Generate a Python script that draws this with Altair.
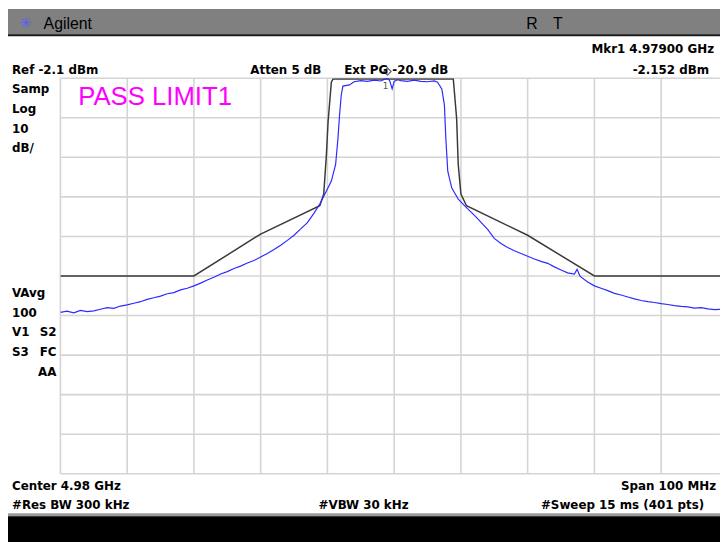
import altair as alt
import pandas as pd

# ---------------- data read from the screen ----------------
# blue measured trace (GHz, dBm)
trace_freq = [
    4.9300, 4.9310, 4.9320, 4.9330, 4.9340, 4.9350, 4.9360, 4.9370, 4.9380, 4.9390,
    4.9400, 4.9410, 4.9420, 4.9430, 4.9440, 4.9450, 4.9460, 4.9470, 4.9480, 4.9490,
    4.9500, 4.9510, 4.9520, 4.9530, 4.9540, 4.9550, 4.9560, 4.9570, 4.9580, 4.9590,
    4.9600, 4.9610, 4.9620, 4.9630, 4.9640, 4.9650, 4.9660, 4.9670, 4.9680, 4.96886,
    4.96985, 4.97059, 4.97123, 4.97158, 4.97182, 4.97207, 4.97232, 4.9733, 4.9740, 4.9750,
    4.9760, 4.9770, 4.9780, 4.9785, 4.9790, 4.9793, 4.9797, 4.9800, 4.9805, 4.9810,
    4.9820, 4.9830, 4.9840, 4.9850, 4.9860, 4.9865, 4.98714, 4.98753, 4.98774, 4.98803,
    4.98862, 4.98960, 4.99084, 4.99232, 4.9940, 4.9950, 4.9960, 4.9970, 4.9980, 4.9990,
    5.0000, 5.0010, 5.0020, 5.0030, 5.0040, 5.0050, 5.0060, 5.0070, 5.0074, 5.0078,
    5.0080, 5.0090, 5.0100, 5.0110, 5.0120, 5.0130, 5.0140, 5.0150, 5.0160, 5.0170,
    5.0180, 5.0190, 5.0200, 5.0210, 5.0220, 5.0230, 5.0240, 5.0250, 5.0260, 5.0270,
    5.0280, 5.0290, 5.0300,
]
trace_level = [
    -61.3, -61.0, -61.4, -60.8, -61.1, -60.9, -60.5, -60.1, -60.3, -59.7,
    -59.4, -59.0, -58.6, -58.0, -57.6, -57.2, -56.6, -56.3, -55.6, -55.2,
    -54.6, -53.9, -53.1, -52.4, -51.6, -51.0, -50.2, -49.6, -48.8, -48.2,
    -47.3, -46.4, -45.4, -44.3, -43.1, -41.8, -40.2, -38.6, -36.2, -33.9,
    -30.6, -28.1, -23.9, -17.3, -11.4, -6.4, -4.1, -3.8, -3.0, -2.7,
    -2.9, -2.6, -2.8, -2.4, -2.15, -2.6, -4.8, -2.9, -2.5, -2.7,
    -2.9, -2.6, -2.9, -3.0, -2.8, -3.1, -4.8, -8.9, -17.3, -25.6,
    -29.8, -32.7, -34.8, -37.3, -40.3, -42.6, -43.9, -44.9, -45.7, -46.4,
    -47.1, -47.8, -48.4, -48.9, -49.8, -50.6, -51.3, -51.6, -50.4, -52.0,
    -52.4, -53.6, -54.6, -55.2, -55.8, -56.5, -56.9, -57.4, -57.9, -58.3,
    -58.6, -58.8, -59.1, -59.3, -59.6, -59.8, -59.9, -60.2, -60.1, -60.4,
    -60.6, -60.5, -60.8,
]

# black limit line (GHz, dBm)
limit_freq = [4.9300, 4.9500, 4.9600, 4.96886, 4.96945, 4.96985, 4.9701, 4.97059, 4.97084,
              4.98886, 4.98936, 4.9896, 4.9900, 4.99084, 5.0000, 5.0100, 5.0300]
limit_level = [-52.1, -52.1, -41.5, -34.35, -31.4, -21.4, -13.1, -3.1, -2.3,
               -2.3, -12.3, -23.9, -31.4, -34.35, -41.8, -52.1, -52.1]

marker_freq = [4.979]
marker_level = [-2.152]

x_grid = [4.93, 4.94, 4.95, 4.96, 4.97, 4.98, 4.99, 5.00, 5.01, 5.02]
y_grid = [-102.1, -92.1, -82.1, -72.1, -62.1, -52.1, -42.1, -32.1, -22.1, -12.1, -2.1]

X_DOMAIN = [4.93, 5.028815]
Y_DOMAIN = [-102.1, -2.1]

trace_df = pd.DataFrame({"f": trace_freq, "p": trace_level})
limit_df = pd.DataFrame({"f": limit_freq, "p": limit_level})
marker_df = pd.DataFrame({"f": marker_freq, "p": marker_level})
xgrid_df = pd.DataFrame({"f": x_grid})
ygrid_df = pd.DataFrame({"p": y_grid})
one = pd.DataFrame({"a": [0]})

BOLD = "DejaVu Sans"
NARROW = "Liberation Sans Narrow, Liberation Sans, Arial"

xs = alt.Scale(domain=X_DOMAIN, nice=False, zero=False)
ys = alt.Scale(domain=Y_DOMAIN, nice=False, zero=False)
noaxis = None

# plot area origin is page (61, 76)
OX, OY = 61, 76


def rect(x1, y1, x2, y2, color):
    return alt.Chart(one).mark_rect(color=color, clip=False).encode(
        x=alt.value(x1 - OX), x2=alt.value(x2 - OX),
        y=alt.value(y1 - OY), y2=alt.value(y2 - OY))


def label(text, px, py, size=12, weight="bold", align="left", color="black", font=BOLD):
    return alt.Chart(one).mark_text(
        text=text, align=align, baseline="alphabetic", fontSize=size,
        fontWeight=weight, font=font, color=color, clip=False,
    ).encode(x=alt.value(px - OX), y=alt.value(py - OY))


vgrid = alt.Chart(xgrid_df).mark_rule(color="#d4d4d4", strokeWidth=1.6).encode(
    x=alt.X("f:Q", scale=xs, axis=noaxis), y=alt.value(0), y2=alt.value(400))
hgrid = alt.Chart(ygrid_df).mark_rule(color="#d4d4d4", strokeWidth=1.6).encode(
    y=alt.Y("p:Q", scale=ys, axis=noaxis), x=alt.value(0), x2=alt.value(667))

limit = alt.Chart(limit_df).mark_line(color="#3a3a3a", strokeWidth=1.5, clip=True).encode(
    x=alt.X("f:Q", scale=xs, axis=noaxis), y=alt.Y("p:Q", scale=ys, axis=noaxis))

trace = alt.Chart(trace_df).mark_line(color="#2b2bff", strokeWidth=1.2, clip=True).encode(
    x=alt.X("f:Q", scale=xs, axis=noaxis), y=alt.Y("p:Q", scale=ys, axis=noaxis))

marker = alt.Chart(marker_df).mark_point(shape="diamond", filled=False, color="#222222",
                                         size=55, strokeWidth=1.2).encode(
    x=alt.X("f:Q", scale=xs, axis=noaxis), y=alt.Y("p:Q", scale=ys, axis=noaxis),
    yOffset=alt.value(-7))

marker_lbl = alt.Chart(marker_df).mark_text(text="1", fontSize=9, color="#555555", dx=-2, dy=8,
                                            font=BOLD).encode(
    x=alt.X("f:Q", scale=xs, axis=noaxis), y=alt.Y("p:Q", scale=ys, axis=noaxis))

layers = [
    rect(8, 6, 728, 32, "#808080"),
    rect(8, 31.5, 728, 33.5, "#1a1a1a"),
    rect(8, 516, 728, 519, "#9a9a9a"),
    rect(8, 519, 728, 545, "#000000"),
    vgrid, hgrid, limit, trace, marker, marker_lbl,
    label("✳", 26, 25, size=15, weight="normal", align="center", color="#5a5aff"),
    label("Agilent", 44, 26, size=16, weight="normal", font=NARROW),
    label("R", 532, 26, size=16, weight="normal", font=NARROW),
    label("T", 559, 26, size=16, weight="normal", font=NARROW),
    label("Mkr1  4.97900 GHz", 722, 51, align="right"),
    label("Ref -2.1 dBm", 12, 72),
    label("Atten 5 dB", 253, 72),
    label("Ext PG -20.9 dB", 348, 72),
    label("-2.152 dBm", 717, 72, align="right"),
    label("Samp", 12, 91),
    label("Log", 12, 111),
    label("10", 12, 131),
    label("dB/", 12, 151),
    label("PASS LIMIT1", 79, 103, size=26, weight="normal", color="#ff00ff", font="Liberation Sans"),
    label("VAvg", 12, 297),
    label("100", 12, 317),
    label("V1", 12, 337),
    label("S2", 57, 337, align="right"),
    label("S3", 12, 357),
    label("FC", 57, 357, align="right"),
    label("AA", 57, 377, align="right"),
    label("Center 4.98 GHz", 12, 492),
    label("Span 100 MHz", 724, 492, align="right"),
    label("#Res BW 300 kHz", 12, 512),
    label("#VBW 30 kHz", 322, 512),
    label("#Sweep 15 ms (401 pts)", 712, 512, align="right"),
]

chart = alt.layer(*layers).properties(
    width=667, height=400,
    padding={"left": 53, "top": 68, "right": 0, "bottom": 66},
    autosize=alt.AutoSizeParams(type="none"),
    background="white",
).configure_view(stroke=None)

chart.save("out.html", embed_options={"renderer": "svg", "actions": False})
